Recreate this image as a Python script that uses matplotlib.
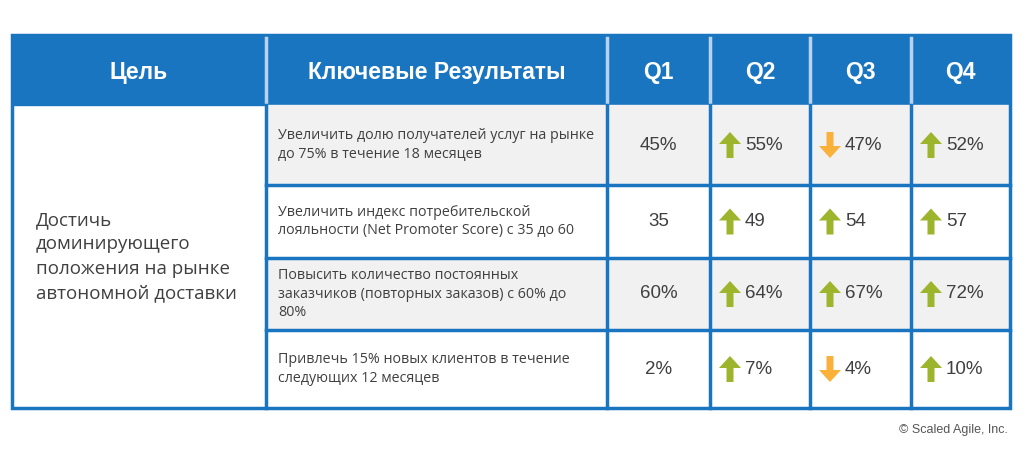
import matplotlib

matplotlib.use("Agg")
import matplotlib.pyplot as plt
from matplotlib.patches import Rectangle, Polygon

headers = ["Цель", "Ключевые Результаты", "Q1", "Q2", "Q3", "Q4"]
goal = "Достичь\nдоминирующего\nположения на рынке\nавтономной доставки"
key_results = [
    "Увеличить долю получателей услуг на рынке\nдо 75% в течение 18 месяцев",
    "Увеличить индекс потребительской\nлояльности (Net Promoter Score) с 35 до 60",
    "Повысить количество постоянных\nзаказчиков (повторных заказов) с 60% до\n80%",
    "Привлечь 15% новых клиентов в течение\nследующих 12 месяцев",
]
values = [
    ["45%", "55%", "47%", "52%"],
    ["35", "49", "54", "57"],
    ["60%", "64%", "67%", "72%"],
    ["2%", "7%", "4%", "10%"],
]
# +1 up, -1 down, 0 none
trends = [
    [0, 1, -1, 1],
    [0, 1, 1, 1],
    [0, 1, 1, 1],
    [0, 1, -1, 1],
]

BLUE = "#1a75c1"
GREEN = "#9db52c"
ORANGE = "#f9b13c"
GRAY = "#f1f1f1"
TEXT = "#404040"

col_x = [12, 266, 607, 710, 810, 911, 1010]
row_y = [35, 105, 185, 258, 330, 408]

fig = plt.figure(figsize=(10.24, 4.70), dpi=100)
ax = fig.add_axes([0, 0, 1, 1])
ax.set_xlim(0, 1024)
ax.set_ylim(470, 0)
ax.axis("off")

# header
ax.add_patch(Rectangle((col_x[0], row_y[0]), col_x[-1] - col_x[0], row_y[1] - row_y[0], color=BLUE))
for i, h in enumerate(headers):
    ax.text((col_x[i] + col_x[i + 1]) / 2, (row_y[0] + row_y[1]) / 2 + 2, h, ha="center", va="center",
            color="white", fontsize=16.5, fontweight="bold", family="Liberation Sans")
for x in col_x[1:-1]:
    ax.plot([x, x], [row_y[0] + 3, row_y[1] - 3], color="#b9d3ee", lw=2.5)

# body rows
for r in range(4):
    y0, y1 = row_y[r + 1], row_y[r + 2]
    if r % 2 == 0:
        ax.add_patch(Rectangle((col_x[1], y0), col_x[-1] - col_x[1], y1 - y0, color=GRAY))
    ax.text(col_x[1] + 12, (y0 + y1) / 2, key_results[r], ha="left", va="center", color=TEXT,
            fontsize=10.3, family="Open Sans", linespacing=1.35)
    for q in range(4):
        xl, xr = col_x[q + 2], col_x[q + 3]
        yc = (y0 + y1) / 2
        t = trends[r][q]
        if t == 0:
            ax.text((xl + xr) / 2, yc, values[r][q], ha="center", va="center", color=TEXT,
                    fontsize=13.5, family="Liberation Sans")
            continue
        ax0 = xl + 20
        w, hw, h = 7, 11, 13
        if t > 0:
            pts = [(ax0 - w / 2, yc + h), (ax0 + w / 2, yc + h), (ax0 + w / 2, yc - 1), (ax0 + hw, yc - 1),
                   (ax0, yc - h), (ax0 - hw, yc - 1), (ax0 - w / 2, yc - 1)]
            col = GREEN
        else:
            pts = [(ax0 - w / 2, yc - h), (ax0 + w / 2, yc - h), (ax0 + w / 2, yc + 1), (ax0 + hw, yc + 1),
                   (ax0, yc + h), (ax0 - hw, yc + 1), (ax0 - w / 2, yc + 1)]
            col = ORANGE
        ax.add_patch(Polygon(pts, closed=True, color=col, lw=0))
        ax.text(ax0 + 15, yc, values[r][q], ha="left", va="center", color=TEXT,
                fontsize=13.5, family="Liberation Sans")

ax.text(col_x[0] + 24, (row_y[1] + row_y[-1]) / 2, goal, ha="left", va="center", color=TEXT,
        fontsize=13.5, family="Open Sans", linespacing=1.45)

# grid lines
for y in row_y[2:-1]:
    ax.plot([col_x[1], col_x[-1]], [y, y], color=BLUE, lw=2.5)
for x in col_x[1:-1]:
    ax.plot([x, x], [row_y[1], row_y[-1]], color=BLUE, lw=2.5)
ax.add_patch(Rectangle((col_x[0], row_y[0]), col_x[-1] - col_x[0], row_y[-1] - row_y[0],
                       fill=False, ec=BLUE, lw=2.5))

ax.text(1008, 430, "© Scaled Agile, Inc.", ha="right", va="center", color="#555555",
        fontsize=9, family="Liberation Sans")

fig.savefig("out.png")
